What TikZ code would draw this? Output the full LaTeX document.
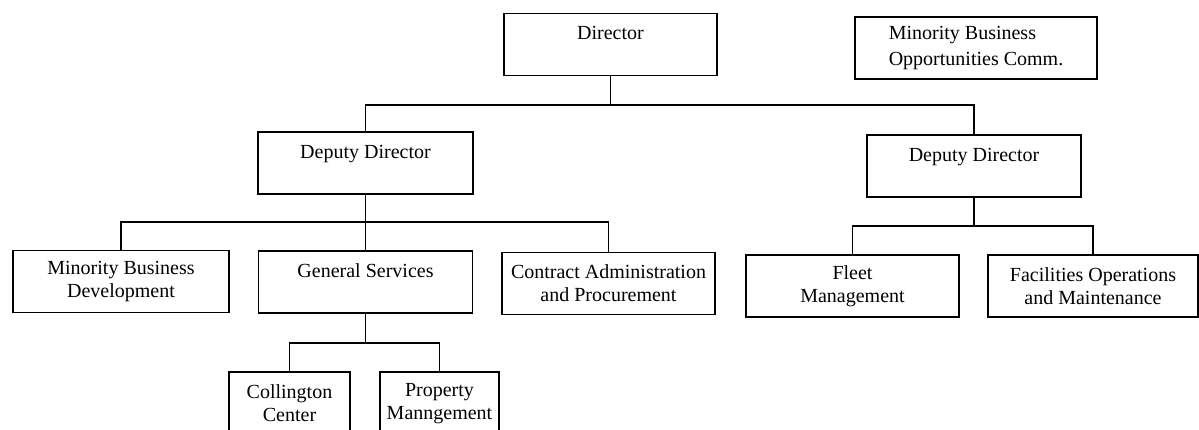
\documentclass[tikz,border=0pt]{standalone}
\usepackage{fontspec}
\setmainfont{Liberation Serif}

\begin{document}
\begin{tikzpicture}[x=1pt,y=-1pt,line width=1.6pt,
	unit/.style={draw,rectangle,inner sep=0,outer sep=0,align=center,font=\fontsize{20}{23}\selectfont,minimum height=62pt}]
	\useasboundingbox (0,0) rectangle (1199,430);
	\node[unit,minimum width=213pt] (dir) at (610.5,44.5) {Director\\~};
	\node[unit,minimum width=242pt,align=left,font=\fontsize{20}{26}\selectfont] (mboc) at (976,48) {Minority Business\\Opportunities Comm.};
	\node[unit,minimum width=215pt] (dep1) at (365.5,163) {Deputy Director\\~};
	\node[unit,minimum width=214pt] (dep2) at (974,166) {Deputy Director\\~};
	\node[unit,minimum width=216pt] (mbd) at (121,281.5) {Minority Business\\Development};
	\node[unit,minimum width=214pt] (gs) at (365.5,282) {General Services\\~};
	\node[unit,minimum width=213pt] (cap) at (608.5,283.5) {Contract Administration\\and Procurement};
	\node[unit,minimum width=213pt] (fleet) at (852.5,286) {Fleet\\Management};
	\node[unit,minimum width=210pt] (fom) at (1093,286) {Facilities Operations\\and Maintenance};
	\node[unit,minimum width=121pt,minimum height=63pt] (coll) at (289.5,403.5) {Collington\\Center};
	\node[unit,minimum width=119pt,minimum height=63pt] (prop) at (439.5,403.5) {Property\\Manngement};
	\coordinate (j1) at (610.5,105);
	\coordinate (j2) at (365.5,222);
	\coordinate (j3) at (974,226);
	\coordinate (j4) at (365.5,343);
	\draw (dir) -- (j1);
	\draw (dep1.north) |- (j1) -| (dep2.north);
	\draw (dep1) -- (j2) -- (gs);
	\draw (mbd.north) |- (j2) -| (cap.north);
	\draw (dep2) -- (j3);
	\draw (fleet.north) |- (j3) -| (fom.north);
	\draw (gs) -- (j4);
	\draw (coll.north) |- (j4) -| (prop.north);
\end{tikzpicture}
\end{document}
